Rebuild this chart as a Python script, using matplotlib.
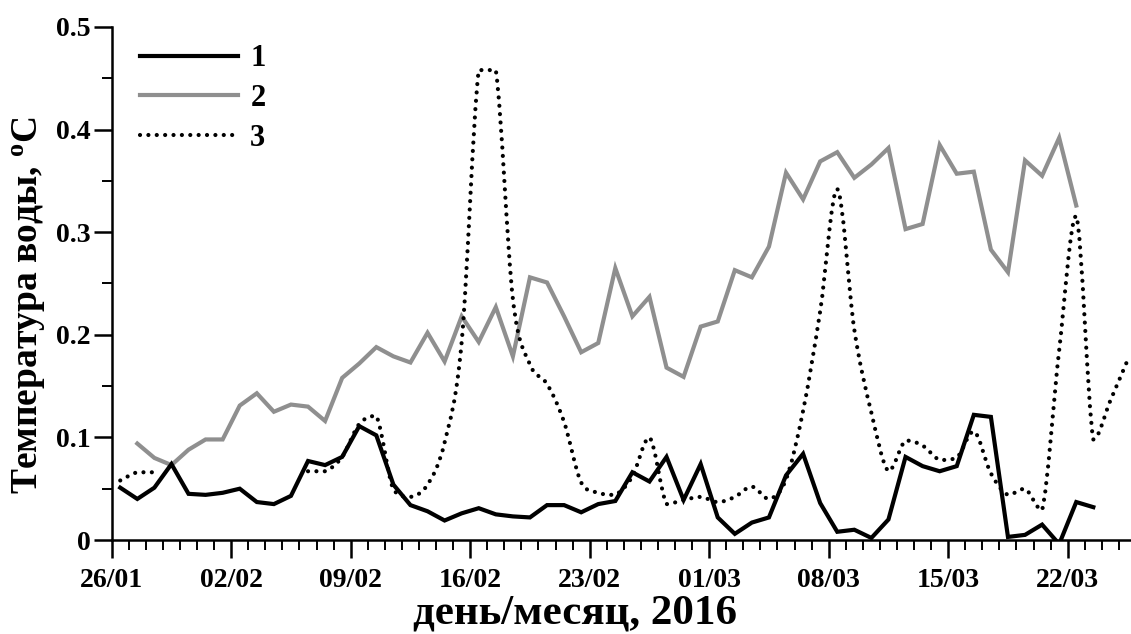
import numpy as np
import pandas as pd
import matplotlib
matplotlib.use("Agg")
import matplotlib.pyplot as plt
import matplotlib.dates as mdates
from matplotlib.path import Path
from matplotlib.patches import PathPatch
from matplotlib.lines import Line2D

# Daily observations (noon), 26 Jan - 25 Mar 2016
dates = pd.date_range("2016-01-26 12:00", periods=60, freq="D")

nan = np.nan
series_1 = [0.051, 0.040, 0.051, 0.074, 0.045, 0.044, 0.046, 0.050, 0.037, 0.035,
            0.043, 0.077, 0.073, 0.081, 0.111, 0.102, 0.054, 0.034, 0.028, 0.019,
            0.026, 0.031, 0.025, 0.023, 0.022, 0.034, 0.034, 0.027, 0.035, 0.038,
            0.066, 0.057, 0.081, 0.039, 0.074, 0.022, 0.006, 0.017, 0.022, 0.063,
            0.084, 0.036, 0.008, 0.010, 0.002, 0.020, 0.081, 0.072, 0.067, 0.072,
            0.122, 0.120, 0.003, 0.005, 0.015, -0.004, 0.037, 0.032, nan, nan]

series_2 = [nan, 0.094, 0.080, 0.073, 0.088, 0.098, 0.098, 0.131, 0.143, 0.125,
            0.132, 0.130, 0.116, 0.158, 0.172, 0.188, 0.179, 0.173, 0.202, 0.174,
            0.218, 0.193, 0.227, 0.179, 0.256, 0.251, 0.218, 0.183, 0.192, 0.265,
            0.218, 0.237, 0.168, 0.159, 0.208, 0.213, 0.263, 0.256, 0.286, 0.358,
            0.332, 0.369, 0.378, 0.353, 0.366, 0.382, 0.303, 0.308, 0.385, 0.357,
            0.359, 0.283, 0.261, 0.370, 0.355, 0.392, 0.326, nan, nan, nan]

series_3 = [0.058, 0.066, 0.066, nan, nan, nan, nan, nan, nan, nan,
            nan, 0.067, 0.067, 0.081, 0.113, 0.121, 0.049, 0.042, 0.054, 0.095,
            0.193, 0.458, 0.458, 0.235, 0.171, 0.152, 0.115, 0.056, 0.046, 0.044,
            0.062, 0.100, 0.035, 0.039, 0.042, 0.037, 0.042, 0.052, 0.040, 0.059,
            0.126, 0.223, 0.342, 0.205, 0.124, 0.067, 0.097, 0.092, 0.078, 0.080,
            0.106, 0.065, 0.044, 0.050, 0.029, 0.185, 0.316, 0.098, 0.136, 0.175]

legend_labels = ["1", "2", "3"]
x_label = "день/месяц, 2016"
y_label = "Температура воды, $^{\\mathbf{o}}$C"

plt.rcParams["font.family"] = ["Liberation Serif", "DejaVu Serif"]
plt.rcParams["font.weight"] = "bold"
plt.rcParams["mathtext.fontset"] = "custom"
plt.rcParams["mathtext.rm"] = "Liberation Serif:bold"
plt.rcParams["mathtext.bf"] = "Liberation Serif:bold"
plt.rcParams["mathtext.it"] = "Liberation Serif:bold"

fig = plt.figure(figsize=(11.31, 6.34), dpi=100)
ax = fig.add_axes([111.7 / 1131, 94 / 634, (1136 - 111.7) / 1131, 513 / 634])

x = mdates.date2num(dates)


def smooth_path(xs, ys):
    """Smoothed Bezier path through the points, split at gaps.

    Control points follow Catmull-Rom tangents, clamped to each segment's
    value range so the curve does not overshoot at peaks and plateaus.
    """
    verts, codes = [], []
    xs = np.asarray(xs, float)
    ys = np.asarray(ys, float)
    ok = ~np.isnan(ys)
    i = 0
    n = len(ys)
    while i < n:
        if not ok[i]:
            i += 1
            continue
        j = i
        while j + 1 < n and ok[j + 1]:
            j += 1
        px, py = xs[i:j + 1], ys[i:j + 1]
        m = len(px)
        verts.append((px[0], py[0]))
        codes.append(Path.MOVETO)
        for k in range(m - 1):
            k0 = max(k - 1, 0)
            k3 = min(k + 2, m - 1)
            lo, hi = min(py[k], py[k + 1]), max(py[k], py[k + 1])
            c1y = np.clip(py[k] + (py[k + 1] - py[k0]) / 6, lo, hi)
            c2y = np.clip(py[k + 1] - (py[k3] - py[k]) / 6, lo, hi)
            c1 = (px[k] + (px[k + 1] - px[k0]) / 6, c1y)
            c2 = (px[k + 1] - (px[k3] - px[k]) / 6, c2y)
            verts += [c1, c2, (px[k + 1], py[k + 1])]
            codes += [Path.CURVE4] * 3
        i = j + 1
    return Path(verts, codes)


grey = "#8f8f8f"
dot_style = (0, (0.01, 2.0))

ax.plot(x, series_2, color=grey, lw=3.0, solid_joinstyle="miter", zorder=2)
dotted = PathPatch(smooth_path(x, series_3), fill=False, edgecolor="black",
                   lw=3.0, linestyle=dot_style, capstyle="round", zorder=3)
ax.add_patch(dotted)
ax.plot(x, series_1, color="black", lw=3.0, solid_joinstyle="miter", zorder=4)

# Axes
ax.set_xlim(mdates.date2num(pd.Timestamp("2016-01-26")),
            mdates.date2num(pd.Timestamp("2016-03-26")))
ax.set_ylim(0, 0.5)
major_days = pd.date_range("2016-01-26", "2016-03-22", freq="7D")
ax.set_xticks(mdates.date2num(major_days))
ax.xaxis.set_major_formatter(mdates.DateFormatter("%d/%m"))
ax.xaxis.set_minor_locator(mdates.DayLocator())
ax.set_yticks([0, 0.1, 0.2, 0.3, 0.4, 0.5])
ax.set_yticklabels(["0", "0.1", "0.2", "0.3", "0.4", "0.5"])
ax.set_yticks(np.arange(0.05, 0.5, 0.1), minor=True)

for side in ("top", "right"):
    ax.spines[side].set_visible(False)
for side in ("left", "bottom"):
    ax.spines[side].set_linewidth(1.8)

ax.tick_params(which="major", direction="out", length=13, width=1.8,
               labelsize=20)
ax.tick_params(which="minor", direction="out", length=7, width=1.4)
ax.tick_params(axis="x", which="major", pad=7)
ax.tick_params(axis="y", which="major", pad=2)

ax.set_xlabel(x_label, fontsize=31, fontweight="bold")
ax.xaxis.set_label_coords(0.452, -0.107)
ax.set_ylabel(y_label, fontsize=27, fontweight="bold")
ax.yaxis.set_label_coords(-0.062, 0.458)

handles = [
    Line2D([], [], color="black", lw=3.0),
    Line2D([], [], color=grey, lw=3.0),
    Line2D([], [], color="black", lw=3.0, linestyle=dot_style,
           dash_capstyle="round"),
]
ax.legend(handles, legend_labels, loc="upper left", bbox_to_anchor=(0.016, 0.99),
          frameon=False, fontsize=22, handlelength=3.2, handletextpad=0.4,
          labelspacing=0.35, borderaxespad=0)

fig.savefig("out.png", dpi=100)
